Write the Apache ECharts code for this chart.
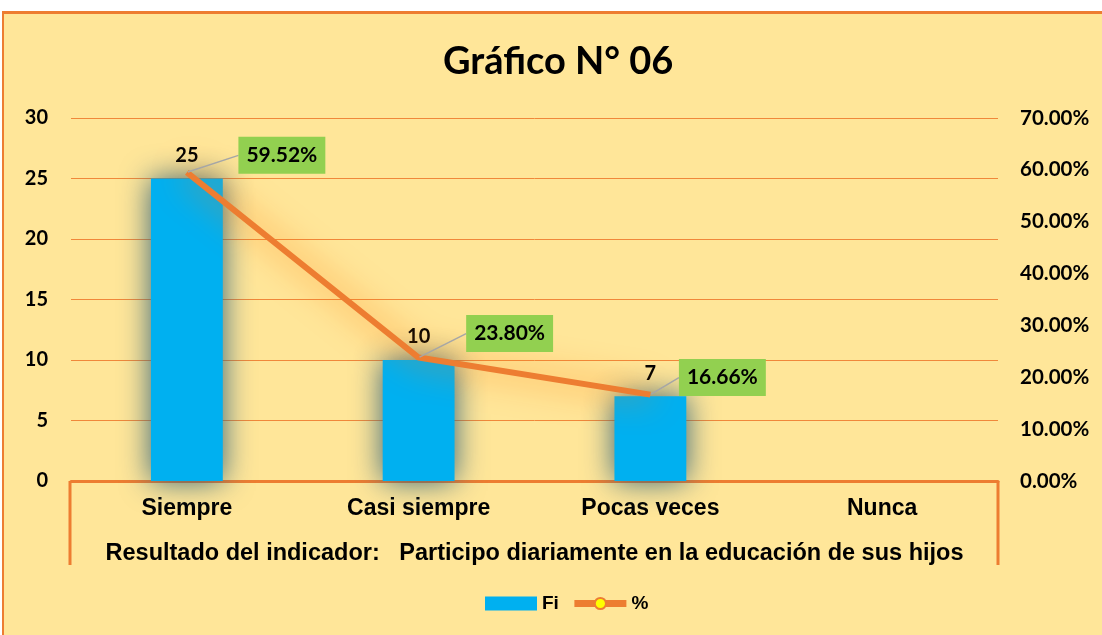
<!DOCTYPE html>
<html>
<head>
<meta charset="utf-8">
<script src="https://cdn.jsdelivr.net/npm/echarts@6/dist/echarts.min.js"></script>
<style>
  html, body { margin: 0; padding: 0; background: #fff; overflow: hidden; }
  #frame { position: absolute; top: 11px; left: 2px; width: 1110px; height: 640px;
           background: #FFE699; border-top: 3px solid #ED7D31; border-left: 2px solid #ED7D31; }
  #chart { position: absolute; top: 0; left: 0; width: 1102px; height: 635px; }
</style>
</head>
<body>
<div id="frame"></div>
<div id="chart"></div>
<script>
const categories = ['Siempre', 'Casi siempre', 'Pocas veces', 'Nunca'];
const fiValues = [25, 10, 7, null];
const pctValues = [59.52, 23.80, 16.66, null];
const leftTicks = { min: 0, max: 30, interval: 5 };
const rightTicks = { min: 0, max: 70, interval: 10 };

const chart = echarts.init(document.getElementById('chart'));

const calibri = 'Lato, "Open Sans", sans-serif';
const arialB = '"Liberation Sans", Arial, sans-serif';

// label offsets for the green % boxes
const pctOffsets = [[95, -17], [91, -24], [72, -17]];

const gridLeft = 71, gridRight = 104, gridTop = 118, gridBottom = 154;

const option = {
  backgroundColor: 'transparent',
  animation: false,
  title: {
    text: 'Gráfico N° 06',
    left: 438,
    top: 38,
    textStyle: { fontFamily: calibri, fontWeight: 'bold', fontSize: 38, color: '#000' }
  },
  grid: { left: gridLeft, right: gridRight, top: gridTop, bottom: gridBottom },
  legend: {
    bottom: 17,
    left: 480,
    itemWidth: 52,
    itemHeight: 14,
    itemGap: 12,
    textStyle: { fontFamily: arialB, fontWeight: 'bold', fontSize: 19, color: '#000' },
    data: [
      { name: 'Fi', icon: 'rect' },
      { name: '%', lineStyle: { width: 7, color: '#ED7D31' } }
    ]
  },
  xAxis: {
    type: 'category',
    data: categories,
    name: 'Resultado del indicador:   Participo diariamente en la educación de sus hijos',
    nameLocation: 'middle',
    nameGap: 61,
    nameTextStyle: { fontFamily: arialB, fontWeight: 'bold', fontSize: 23.5, color: '#000' },
    axisLine: { lineStyle: { color: '#ED7D31', width: 3 } },
    axisTick: { show: false },
    axisLabel: { margin: 16, fontFamily: arialB, fontWeight: 'bold', fontSize: 23, color: '#000' }
  },
  yAxis: [
    {
      type: 'value',
      min: leftTicks.min, max: leftTicks.max, interval: leftTicks.interval,
      axisLine: { show: false },
      axisTick: { show: false },
      splitLine: { lineStyle: { color: '#F0883A', width: 1 } },
      axisLabel: { margin: 23, fontFamily: calibri, fontWeight: 'bold', fontSize: 20, color: '#000' }
    },
    {
      type: 'value',
      min: rightTicks.min, max: rightTicks.max, interval: rightTicks.interval,
      axisLine: { show: false },
      axisTick: { show: false },
      splitLine: { show: false },
      axisLabel: {
        margin: 22,
        fontFamily: calibri, fontWeight: 'bold', fontSize: 20.5, color: '#000',
        formatter: v => v.toFixed(2) + '%'
      }
    }
  ],
  series: [
    {
      name: 'Fi',
      type: 'bar',
      data: fiValues,
      barWidth: '31%',
      itemStyle: {
        color: '#00B0F0',
        shadowBlur: 30,
        shadowColor: 'rgba(50,100,125,1)'
      },
      label: {
        show: true,
        position: 'top',
        distance: 13,
        fontFamily: calibri, fontWeight: 'bold', fontSize: 20, color: '#000'
      },
      z: 2
    },
    {
      name: '%',
      type: 'line',
      yAxisIndex: 1,
      data: pctValues.map(v => ({
        value: v,
        symbolSize: 2,
        itemStyle: { color: 'transparent', borderColor: 'transparent' }
      })),
      symbol: 'circle',
      symbolSize: 13,
      itemStyle: { color: '#FFFF00', borderColor: '#ED7D31', borderWidth: 1.5 },
      lineStyle: {
        color: '#ED7D31',
        width: 6,
        shadowBlur: 34,
        shadowColor: 'rgba(255,120,0,1)'
      },
      label: {
        show: true,
        position: 'inside',
        backgroundColor: '#92D050',
        padding: [9, 8, 7, 8],
        fontFamily: calibri, fontWeight: 'bold', fontSize: 21, color: '#000',
        formatter: p => p.value == null ? '' : p.value.toFixed(2) + '%'
      },
      labelLine: { show: true, lineStyle: { color: '#A6A6A6', width: 1.5 } },
      labelLayout: p => {
        const o = pctOffsets[p.dataIndex] || [0, 0];
        return { dx: o[0], dy: o[1] };
      },
      z: 3
    }
  ]
};

chart.setOption(option);

// bracket box below the category axis
const x0 = gridLeft - 1, x1 = 1102 - gridRight, yTop = 635 - gridBottom, yBot = 565;
chart.setOption({
  graphic: [
    { type: 'line', shape: { x1: x0, y1: yTop, x2: x0, y2: yBot }, style: { stroke: '#ED7D31', lineWidth: 3 } },
    { type: 'line', shape: { x1: x1, y1: yTop, x2: x1, y2: yBot }, style: { stroke: '#ED7D31', lineWidth: 3 } }
  ]
});
</script>
</body>
</html>
